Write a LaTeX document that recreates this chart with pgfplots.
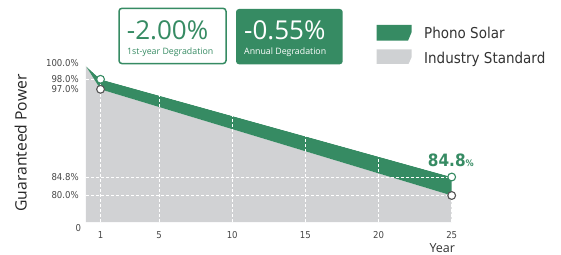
\documentclass[border=0pt]{standalone}
\usepackage{fontspec}
\usepackage{pgfplots}
\pgfplotsset{compat=1.18}
\setmainfont{DejaVu Sans Condensed}
\newfontfamily\boxfont{Open Sans}
\definecolor{pgreen}{RGB}{54,139,99}
\definecolor{igray}{RGB}{209,210,212}
\definecolor{lgray}{RGB}{207,209,211}
\definecolor{tgray}{RGB}{70,70,70}
\definecolor{mgray}{RGB}{85,85,85}
\begin{document}
\begin{tikzpicture}[x=1pt,y=1pt]
\path[use as bounding box] (0,0) rectangle (561,254);
% stat boxes
\draw[pgreen, line width=1.5pt, rounded corners=3pt, fill=white] (119,245.7) rectangle (226,190.4);
\fill[pgreen, rounded corners=3pt] (236,245) rectangle (342.7,189.7);
\node[anchor=base west, inner sep=0pt, text=pgreen, font=\boxfont\fontsize{26}{26}\selectfont] at (126.7,214.7) {-2.00\%};
\node[anchor=base west, inner sep=0pt, text=pgreen, font=\boxfont\fontsize{8.8}{8.8}\selectfont] at (127,199) {1st-year Degradation};
\node[anchor=base west, inner sep=0pt, text=white, font=\boxfont\fontsize{26}{26}\selectfont] at (244,214.7) {-0.55\%};
\node[anchor=base west, inner sep=0pt, text=white, font=\boxfont\fontsize{8.8}{8.8}\selectfont] at (244,199) {Annual Degradation};
% legend
\fill[pgreen] (376.7,229) -- (411.7,229) -- (411.7,222) -- (408,213.3) -- (376.7,213.3) -- cycle;
\fill[lgray] (376.7,204.7) -- (411.7,204.7) -- (411.7,197) -- (408.5,190) -- (376.7,190) -- cycle;
\node[anchor=base west, inner sep=0pt, text=black!80, font=\fontsize{15}{15}\selectfont] at (424,215.7) {Phono Solar};
\node[anchor=base west, inner sep=0pt, text=black!80, font=\fontsize{15}{15}\selectfont] at (424,190.7) {Industry Standard};
% axis titles
\node[rotate=90, anchor=base, inner sep=0pt, text=black!85, font=\boxfont\fontsize{15.7}{15.7}\selectfont] at (254-227.3,111) {Guaranteed Power};
\node[anchor=base west, inner sep=0pt, text=black!80, font=\boxfont\fontsize{12.5}{12.5}\selectfont] at (429.3,1.7) {Year};
\begin{axis}[
  at={(85.9pt,32pt)}, anchor=south west,
  scale only axis, width=365.8pt, height=156pt,
  xmin=0, xmax=25, ymin=0, ymax=100,
  clip=false,
  /pgf/number format/assume math mode=true,
  y coord trafo/.code={\pgfmathparse{#1<=80 ? #1*26.5/80 : (#1<=84.8 ? 26.5+(#1-80)*18.5/4.8 : (#1<=97 ? 45+(#1-84.8)*87.7/12.2 : (#1<=98 ? 132.7+(#1-97)*10 : 142.7+(#1-98)*6.65)))}},
  axis line style={draw=none},
  major tick length=0pt,
  xtick={1,5,10,15,20,25},
  ytick={80,84.8,97,98},
  yticklabels={80.0\%,84.8\%,97.0\%,98.0\%},
  extra y ticks={100},
  extra y tick labels={100.0\%},
  extra y tick style={yticklabel style={yshift=2.5pt}},
  ticklabel style={font=\fontsize{9.5}{9.5}\selectfont, text=tgray, inner sep=0pt},
  yticklabel style={anchor=east, xshift=-7pt},
  xticklabel style={anchor=north, yshift=-9.7pt},
]
\addplot[draw=none, fill=igray] coordinates {(0,0) (0,100) (1,97) (25,80) (25,0)} -- cycle;
\addplot[draw=none, fill=pgreen] coordinates {(0,100) (1,98) (25,84.8) (25,80) (1,97)} -- cycle;
\pgfplotsset{dl/.style={white, line width=0.9pt, dash pattern=on 3pt off 2pt}}
\addplot[dl] coordinates {(1,0) (1,100)};
\addplot[dl] coordinates {(5,0) (5,100)};
\addplot[dl] coordinates {(10,0) (10,100)};
\addplot[dl] coordinates {(15,0) (15,100)};
\addplot[dl] coordinates {(20,0) (20,100)};
\addplot[dl] coordinates {(25,0) (25,80)};
\addplot[dl] coordinates {(0,98) (1,98)};
\addplot[dl] coordinates {(0,84.8) (25,84.8)};
\addplot[dl] coordinates {(0,80) (25,80)};
\addplot[draw=none, fill=white] coordinates {(0,100) (1,98) (25,84.8) (25,100)} -- cycle;
\addplot[only marks, mark=*, mark size=3.9pt, mark options={fill=white, draw=mgray, line width=1.1pt}] coordinates {(1,97) (25,80)};
\addplot[only marks, mark=*, mark size=3.9pt, mark options={fill=white, draw=pgreen, line width=1.1pt}] coordinates {(1,98) (25,84.8)};
\node[anchor=east, inner sep=0pt, text=tgray, font=\fontsize{9.5}{9.5}\selectfont, xshift=-4.6pt, yshift=-6pt] at (axis cs:0,0) {0};
\node[anchor=base west, inner sep=0pt, text=pgreen, font=\bfseries\fontsize{17}{17}\selectfont, xshift=-24pt, yshift=11pt] at (axis cs:25,84.8) {84.8{\fontsize{9}{9}\selectfont\%}};
\end{axis}
\end{tikzpicture}
\end{document}
